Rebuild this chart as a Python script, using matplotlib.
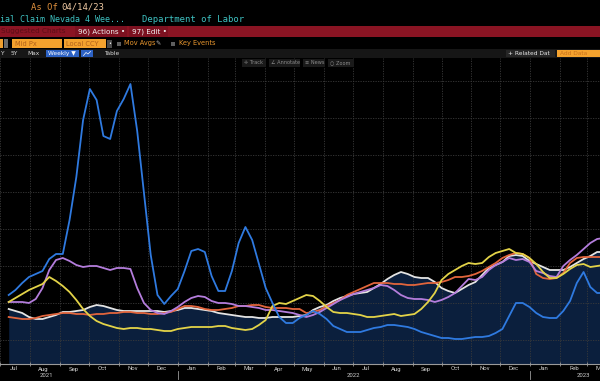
import matplotlib
matplotlib.use('Agg')
import matplotlib.pyplot as plt
import matplotlib.transforms as mtransforms
from matplotlib.patches import Rectangle
from matplotlib.lines import Line2D
import pandas as pd

# ---------------- data (weekly, arbitrary units) ----------------
weeks = pd.date_range('2021-07-10', periods=89, freq='7D')

blue = [6.9, 7.4, 8.1, 8.7, 9.0, 9.3, 10.5, 11.0, 11.0, 14.4,
        18.7, 24.4, 27.5, 26.4, 22.8, 22.5, 25.3, 26.5, 28.0, 23.3,
        17.1, 10.9, 6.9, 6.0, 6.8, 7.5, 9.3, 11.3, 11.5, 11.2,
        8.8, 7.3, 7.3, 9.3, 12.1, 13.7, 12.4, 10.0, 7.6, 6.1,
        4.7, 4.1, 4.1, 4.6, 4.9, 5.3, 5.0, 4.5, 3.8, 3.5,
        3.2, 3.2, 3.2, 3.4, 3.6, 3.7, 3.9, 3.9, 3.8, 3.7,
        3.5, 3.2, 3.0, 2.8, 2.6, 2.6, 2.5, 2.5, 2.6, 2.7,
        2.7, 2.8, 3.1, 3.5, 4.8, 6.1, 6.1, 5.7, 5.1, 4.7,
        4.6, 4.6, 5.3, 6.3, 8.1, 9.2, 7.7, 7.1, 7.1]

yellow = [6.2, 6.6, 7.0, 7.4, 7.7, 8.0, 8.7, 8.3, 7.8, 7.2,
          6.4, 5.5, 4.8, 4.3, 4.0, 3.8, 3.6, 3.5, 3.6, 3.6,
          3.5, 3.5, 3.4, 3.3, 3.3, 3.5, 3.6, 3.7, 3.7, 3.7,
          3.7, 3.8, 3.8, 3.6, 3.5, 3.4, 3.5, 3.9, 4.4, 5.8,
          6.1, 6.0, 6.3, 6.6, 6.9, 6.8, 6.3, 5.7, 5.2, 5.1,
          5.1, 5.0, 4.9, 4.7, 4.7, 4.8, 4.9, 5.0, 4.8, 4.9,
          5.0, 5.5, 6.2, 7.1, 8.4, 9.0, 9.4, 9.8, 10.1, 10.0,
          10.1, 10.7, 11.1, 11.3, 11.5, 11.1, 11.0, 10.6, 10.0, 9.2,
          8.6, 8.6, 9.0, 9.5, 9.9, 10.0, 9.7, 9.8, 9.9]

purple = [6.2, 6.2, 6.2, 6.1, 6.5, 7.6, 9.4, 10.4, 10.6, 10.3,
          9.9, 9.7, 9.8, 9.8, 9.6, 9.4, 9.6, 9.6, 9.5, 7.6,
          6.1, 5.4, 5.1, 5.0, 5.3, 5.7, 6.2, 6.6, 6.8, 6.7,
          6.3, 6.1, 6.1, 6.0, 5.8, 5.8, 5.7, 5.6, 5.4, 5.4,
          5.3, 5.2, 5.1, 4.9, 4.7, 4.9, 5.2, 5.6, 6.0, 6.4,
          6.7, 7.0, 7.2, 7.4, 7.6, 7.9, 7.8, 7.4, 6.9, 6.6,
          6.5, 6.5, 6.4, 6.2, 6.4, 6.7, 7.1, 7.8, 8.5, 8.4,
          8.7, 9.4, 9.9, 10.2, 10.6, 10.4, 10.5, 10.2, 9.3, 9.1,
          8.8, 8.7, 9.8, 10.4, 10.9, 11.5, 12.1, 12.5, 12.6]

white = [5.5, 5.3, 5.1, 4.7, 4.5, 4.5, 4.7, 4.9, 5.2, 5.2,
         5.3, 5.4, 5.7, 5.9, 5.8, 5.6, 5.4, 5.3, 5.3, 5.3,
         5.3, 5.3, 5.3, 5.2, 5.3, 5.4, 5.6, 5.6, 5.5, 5.4,
         5.3, 5.1, 5.0, 4.9, 4.8, 4.7, 4.7, 4.6, 4.6, 4.7,
         4.7, 4.7, 4.7, 4.8, 4.9, 5.4, 5.7, 5.9, 6.3, 6.6,
         6.8, 7.0, 7.1, 7.2, 7.6, 8.0, 8.5, 8.9, 9.2, 9.0,
         8.7, 8.6, 8.6, 8.2, 7.6, 7.3, 7.1, 7.5, 7.9, 8.2,
         8.9, 9.6, 9.9, 10.2, 10.8, 10.9, 10.8, 10.3, 10.0, 9.7,
         9.4, 9.4, 9.4, 9.7, 10.1, 10.5, 10.8, 11.2, 11.2]

orange = [4.7, 4.6, 4.5, 4.5, 4.6, 4.8, 4.9, 5.0, 5.1, 5.1,
          5.0, 5.0, 4.9, 5.0, 5.0, 5.1, 5.1, 5.2, 5.2, 5.1,
          5.1, 5.0, 5.0, 5.1, 5.2, 5.5, 5.8, 5.8, 5.7, 5.5,
          5.4, 5.4, 5.5, 5.6, 5.8, 5.8, 5.9, 5.9, 5.7, 5.6,
          5.6, 5.6, 5.5, 5.5, 5.1, 5.2, 5.4, 5.8, 6.1, 6.4,
          6.9, 7.2, 7.5, 7.8, 8.1, 8.1, 8.1, 8.0, 8.0, 7.9,
          7.9, 8.0, 8.1, 8.1, 8.2, 8.4, 8.7, 8.7, 8.8, 9.0,
          9.3, 9.7, 10.1, 10.6, 10.9, 11.1, 11.0, 10.6, 9.0, 8.6,
          8.5, 8.6, 9.1, 10.1, 10.6, 10.7, 10.7, 10.7, 10.7]

year_labels = ['2021', '2022', '2023']
year_label_dates = ['2021-08-18', '2022-07-02', '2023-02-25']
header_date = '04/14/23'
title_text = 'ial Claim Nevada 4 Wee...'
source_text = 'Department of Labor'

# ---------------- figure ----------------
W, H = 600, 381
fig = plt.figure(figsize=(W / 100, H / 100), dpi=100, facecolor='black')
ax = fig.add_axes([0, 17 / H, 1, 306 / H])
ax.set_facecolor('black')
x0, x1 = pd.Timestamp('2021-07-14'), pd.Timestamp('2023-03-14')
ax.set_xlim(x0, x1)
ax.set_ylim(0, 30.6)

months = pd.date_range('2021-07-01', '2023-03-01', freq='MS')
ax.set_xticks(months)
ax.set_yticks([2.4 + 3.7 * i for i in range(8)])
ax.grid(True, color='#3a3a3a', lw=0.6, ls=(0, (1.5, 1.5)))
ax.tick_params(axis='x', length=2.5, direction='inout', color='#9a9a9a',
               width=0.6, labelbottom=False)
ax.tick_params(axis='y', length=0, labelleft=False)
for s in ['top', 'left', 'right']:
    ax.spines[s].set_visible(False)
ax.spines['bottom'].set_color('#9a9a9a')
ax.spines['bottom'].set_linewidth(0.8)

ax.fill_between(weeks, white, 0, color='#0b1f3d', lw=0, zorder=1)
lw = 1.3
ax.plot(weeks, white, color='#e4e4e4', lw=lw, zorder=3)
ax.plot(weeks, orange, color='#e2653c', lw=lw, zorder=4)
ax.plot(weeks, purple, color='#b47ddc', lw=lw, zorder=5)
ax.plot(weeks, yellow, color='#e3d348', lw=lw, zorder=6)
ax.plot(weeks, blue, color='#2f7ae0', lw=lw, zorder=7)

trans = mtransforms.blended_transform_factory(ax.transData, ax.transAxes)
for m in months:
    ax.text(m + pd.Timedelta(days=14), -5 / 306, m.strftime('%b'),
            transform=trans, ha='center', va='center', color='#cfcfcf',
            fontsize=4.3, family='Roboto', clip_on=False)
for lab, d in zip(year_labels, year_label_dates):
    ax.text(pd.Timestamp(d), -11.5 / 306, lab, transform=trans, ha='center',
            va='center', color='#cfcfcf', fontsize=4.3, family='Roboto',
            clip_on=False)
for d in ['2022-01-01', '2023-01-01']:
    ax.plot([pd.Timestamp(d)] * 2, [-7 / 306, -15 / 306], transform=trans,
            color='#9a9a9a', lw=0.6, clip_on=False)

# ---------------- header chrome ----------------
def T(x, y, s, **kw):
    kw.setdefault('va', 'center')
    fig.text(x / W, 1 - y / H, s, **kw)

def R(x, y, w, h, c):
    fig.add_artist(Rectangle((x / W, 1 - (y + h) / H), w / W, h / H,
                             transform=fig.transFigure, color=c, lw=0))

mono = dict(family='DejaVu Sans Mono', fontsize=6.4)
T(31, 7, 'As Of', color='#de8f3c', **mono)
T(61, 7, header_date, color='#f2cba4', **mono)
T(0, 20, title_text, color='#3fc3c3', family='DejaVu Sans Mono', fontsize=6.0)
T(142, 20, source_text, color='#3fc3c3', **mono)

R(0, 26, 600, 11, '#8a1423')
R(75, 26, 52, 11, '#7c1120')
R(129, 26, 39, 11, '#7c1120')
sans = dict(family='DejaVu Sans', fontsize=5.2)
T(1, 31.5, 'Suggested Charts', color='#5a0d16', **sans)
T(78, 31.5, '96) Actions \u2022', color='#f2f2f2', **sans)
T(132, 31.5, '97) Edit \u2022', color='#f2f2f2', **sans)

small = dict(family='DejaVu Sans', fontsize=4.8)
R(0, 39, 3, 9, '#f0a030')
R(4, 39, 4, 9, '#6a6a6a')
R(12, 39, 50, 9, '#f4a22e')
T(15, 43.5, 'Mid Px', color='#b0601a', **small)
R(64, 39, 42, 9, '#f4a22e')
T(66, 43.5, 'Local CCY', color='#b0601a', **small)
R(107, 40, 5, 8, '#4a4a4a')
T(109.5, 43.5, '\u2022', color='white', ha='center', fontsize=3.5)
R(117, 41.5, 4, 4.5, '#5e5e5e')
T(124, 43.5, 'Mov Avgs', color='#e8962e', **small)
T(155, 43.5, '\u270e', color='#bbbbbb', fontsize=4.5, family='DejaVu Sans')
R(171, 41.5, 4, 4.5, '#5e5e5e')
T(179, 43.5, 'Key Events', color='#e8962e', **small)

R(0, 49, 600, 8.5, '#161616')
tiny = dict(family='DejaVu Sans', fontsize=4.2)
T(0, 53.2, 'Y', color='#d8d8d8', **tiny)
T(11, 53.2, '5Y', color='#d8d8d8', **tiny)
T(27, 53.2, 'Max', color='#d8d8d8', **tiny)
R(46, 49.5, 33, 7.5, '#2d62c4')
T(48, 53.2, 'Weekly \u25bc', color='white', **tiny)
R(81, 49.5, 12, 7.5, '#2d62c4')
fig.add_artist(Line2D([83.5 / W, 86 / W, 88 / W, 90.5 / W],
                      [1 - 55.5 / H, 1 - 52.5 / H, 1 - 54 / H, 1 - 51.5 / H],
                      color='white', lw=0.5, transform=fig.transFigure))
T(104, 53.2, 'Table', color='#d8d8d8', **tiny)
R(506, 49.5, 49, 7.5, '#262626')
T(508, 53.2, '+ Related Dat', color='#e6e6e6', **tiny)
R(557, 49.5, 43, 7.5, '#f4a22e')
T(560, 53.2, 'Add Data', color='#c8701a', **tiny)

btn = dict(family='DejaVu Sans', fontsize=3.6, color='#8c8c8c')
for bx, bw, lab in [(242, 24, '\u271b Track'), (269, 31, '\u2220 Annotate'),
                    (303, 22, '\u2261 News'), (328, 26, '\u25cb Zoom')]:
    R(bx, 59.5, bw, 7, '#1a1a1a')
    T(bx + 2, 63, lab, **btn)

fig.savefig('out.png', dpi=100, facecolor='black')
